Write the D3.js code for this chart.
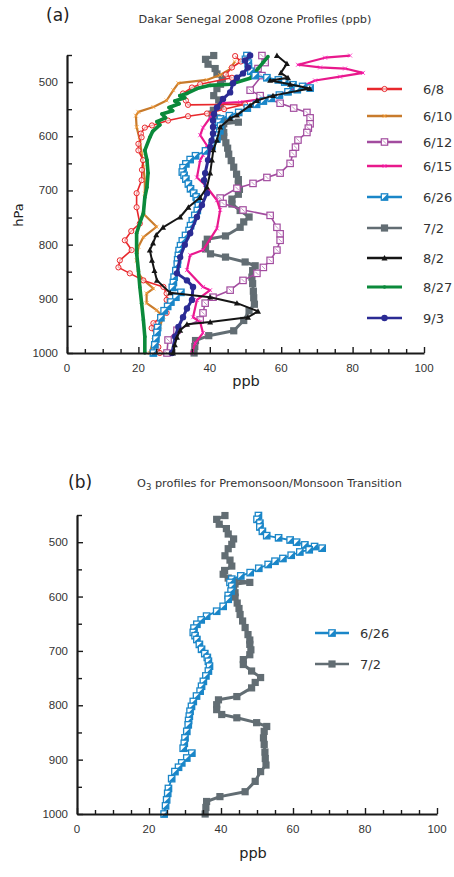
<!DOCTYPE html>
<html><head><meta charset="utf-8">
<script src="https://cdn.jsdelivr.net/npm/d3@7"></script>
<style>
body{margin:0;background:#fff;}
svg{display:block;}
</style></head>
<body><svg id="c" width="454" height="877"></svg>
<script>
// ---- DATA: [ppb, hPa] ----
const s0608 = [[47.1,452],[48.7,462],[46.2,473],[44.5,486],[46.2,492],[37.3,504],[35,510],[32.5,521],[33.3,534],[33.9,542],[49.9,541],[44,550],[39.2,558],[33.9,563],[28.3,571],[23.8,580],[21.8,584],[20.7,595],[20.9,602],[20,614],[20,626],[21.3,644],[21,662],[20.9,681],[19.5,705],[19.5,731],[20.4,761],[18,775],[16.2,792],[18.1,810],[14.8,829],[14.4,842],[17.6,853],[21.4,866],[27,878],[27.9,890],[27.9,902],[27.9,926],[24.2,945],[23.7,954],[25.1,971],[25.6,989],[26,1000]];
const s0610 = [[47,462],[45.7,476],[42.9,487],[39.1,496],[31.2,502],[29.8,515],[27.9,534],[24.2,546],[20,555],[19.3,562],[19.5,583],[20.4,607],[20.9,631],[21.4,657],[21.8,681],[21.8,706],[21.4,743],[25.1,767],[21.4,786],[20,804],[19.5,829],[20,853],[21.4,865],[24.2,881],[22.3,890],[22.3,908],[25.1,921],[27,933],[26,951],[24.2,976],[23.2,1000]];
const s0612 = [[54.6,451],[55.5,464],[53.5,475],[54.6,488],[51.3,515],[54.1,525],[59.7,539],[63.5,548],[67.2,556],[68.1,566],[68.1,577],[67.6,585],[67.2,593],[64.7,607],[64,620],[63.3,632],[62.5,650],[59.7,668],[56,676],[52.1,687],[47.6,696],[42.9,714],[43.7,724],[49.3,736],[56.9,746],[58.8,768],[59.7,780],[59.7,792],[58.8,810],[56.9,829],[55,842],[53.2,853],[49.3,866],[45.7,884],[40.9,897],[38.7,908],[38.1,926],[37.3,939],[30.8,958],[28.3,976],[28,1000]];
const s0615 = [[79.3,451],[72.3,455],[64.7,468],[70.9,473],[77.9,475],[82.9,483],[76.5,490],[69.5,497],[67.2,504],[62.5,515],[57.7,528],[48.5,537],[43.4,539],[40.6,561],[38.1,584],[37.3,598],[39.2,617],[38.1,635],[37.3,644],[36.4,676],[38.7,690],[42,718],[42.9,736],[42,770],[38.1,810],[34.5,819],[33.6,847],[38.1,878],[40.1,884],[36.4,902],[35.3,934],[37.3,943],[38.1,963],[35.9,982],[35,1000]];
const s0626 = [[50.4,451],[50,458],[50.8,465],[50.8,472],[51.5,480],[52.7,488],[56,492],[59.2,496],[61,500],[63.3,505],[66,508],[68.1,511],[64.5,514],[61.9,518],[59.5,524],[57.2,530],[55,535],[53.1,541],[50.5,548],[48.1,556],[45.5,562],[43,568],[42.5,574],[43,581],[42.8,590],[42,598],[42,605],[40.6,618],[38.8,627],[36,636],[34.5,643],[33.3,651],[32.5,658],[32.3,666],[32.8,672],[33.3,679],[34,688],[34.6,697],[35.5,705],[36.2,712],[36.5,719],[36.8,728],[36.5,737],[35.8,746],[35.1,756],[34.6,765],[34.2,774],[33.2,783],[32.3,793],[31.8,802],[31.4,811],[31.2,820],[31,828],[30.9,836],[30.5,848],[30,860],[29.8,870],[29.5,879],[31.9,888],[30.5,897],[29.1,906],[28.2,914],[27.2,922],[26.3,935],[25.4,953],[25.2,962],[24.9,974],[24.6,985],[24.2,1000]];
const s0702 = [[41.1,451],[38.8,458],[39.5,467],[41.5,475],[42,485],[43.5,494],[43,504],[42,512],[41.1,525],[42.5,533],[43,544],[41,552],[40.6,559],[42,566],[48,574],[43.9,577],[43.5,585],[43.9,593],[43.9,601],[44.5,612],[45,622],[45.3,633],[46,645],[46.7,657],[47.5,670],[48,680],[48,688],[48.3,698],[48,707],[46.2,716],[46.2,725],[48.5,737],[51,749],[49.5,758],[48.5,768],[44.4,784],[39.3,790],[38.8,799],[38.8,808],[40.2,817],[44.4,823],[49.9,832],[52.7,839],[52,848],[51.8,860],[52,872],[52.2,886],[52.3,898],[52.5,910],[51,922],[49.5,940],[46.7,959],[39.7,968],[36,977],[35.8,988],[35.6,1000]];
const s0802 = [[58.8,451],[61.6,466],[59.9,483],[61.9,492],[56.9,497],[62.5,504],[68,512],[57.7,525],[53.2,534],[51.3,543],[47.6,561],[45.7,567],[42.9,583],[42,607],[41,625],[40.6,644],[40.1,668],[39.2,694],[37.3,713],[34,731],[31.7,749],[26.9,768],[25,782],[24.1,797],[23.2,810],[23.8,829],[24.5,848],[25.2,866],[28.9,889],[40.1,897],[47.6,908],[53.5,923],[50.7,934],[40.1,943],[33.6,947],[31.7,958],[30.8,971],[30.2,985],[29.7,1000]];
const s0827 = [[56.3,453],[54.9,464],[53.5,475],[51.3,493],[45.7,504],[40.1,506],[36.4,512],[33.6,521],[31.6,525],[33,529],[30.2,535],[31.4,540],[28.6,547],[29.6,553],[26.6,559],[27.6,566],[25.2,573],[26,579],[24,591],[23.2,602],[21.8,626],[22.4,644],[22.7,668],[22.4,694],[21.8,713],[21.4,742],[20.4,760],[19.5,779],[19.5,816],[20,847],[20.4,878],[20.9,908],[21.4,939],[21.8,970],[21.8,1000]];
const s0903 = [[51.3,451],[49.9,460],[50.7,473],[49.3,484],[47.6,492],[46.5,502],[45.7,519],[43.7,531],[42,547],[41.2,559],[40.9,571],[40.9,583],[40.9,595],[40.5,608],[40.1,620],[39.5,644],[38.7,668],[38.4,681],[39.2,705],[37.8,727],[36.4,749],[34.5,779],[33,800],[31.7,823],[30.8,853],[33.6,866],[35.3,878],[35,902],[33.6,918],[32.5,934],[31.2,952],[30.3,970],[29.4,1000]];

const labels = ["6/8","6/10","6/12","6/15","6/26","7/2","8/2","8/27","9/3"];
const xTickLabels = [0,20,40,60,80,100];
const yTickLabels = [500,600,700,800,900,1000];

// ---- STYLES ----
const styles = {
 "6/8": {data:s0608,color:"#e8282c",w:1.6,mk:"circle"},
 "6/10":{data:s0610,color:"#c87b2c",w:2.2,mk:"x"},
 "6/12":{data:s0612,color:"#a24c9f",w:1.6,mk:"sqx"},
 "6/15":{data:s0615,color:"#e8198c",w:2.2,mk:"x"},
 "6/26":{data:s0626,color:"#1a86c8",w:1.8,mk:"half"},
 "7/2": {data:s0702,color:"#626d73",w:3,mk:"fsq"},
 "8/2": {data:s0802,color:"#151515",w:2,mk:"tri"},
 "8/27":{data:s0827,color:"#0b8a3b",w:3.6,mk:"dot"},
 "9/3": {data:s0903,color:"#2b2b94",w:3,mk:"fcirc"}
};
const drawOrder = ["7/2","6/12","6/15","6/10","6/8","8/27","6/26","9/3","8/2"];

const svg = d3.select("#c");
const tickFont = "'Liberation Sans', Arial, sans-serif";
const titleFont = "'DejaVu Sans', sans-serif";

function marker(g, type, cx, cy, color, scale){
  scale = scale||1;
  if(type==="circle"){
    g.append("circle").attr("cx",cx).attr("cy",cy).attr("r",2.6*scale).attr("fill","#fff").attr("fill-opacity",0.6).attr("stroke",color).attr("stroke-width",1);
  } else if(type==="x"){
    const s=2*scale;
    g.append("path").attr("d",`M${cx-s},${cy-s}L${cx+s},${cy+s}M${cx-s},${cy+s}L${cx+s},${cy-s}`).attr("stroke",d3.color(color).brighter(0.8)).attr("stroke-width",0.8);
  } else if(type==="sqx"){
    const s=3.2*scale;
    g.append("rect").attr("x",cx-s).attr("y",cy-s).attr("width",2*s).attr("height",2*s).attr("fill","#fff").attr("stroke",color).attr("stroke-width",1.2);
    g.append("path").attr("d",`M${cx-s+1.5},${cy-s+1.5}L${cx+s-1.5},${cy+s-1.5}`).attr("stroke",color).attr("stroke-width",0.6);
  } else if(type==="half"){
    const s=3.2*scale;
    g.append("rect").attr("x",cx-s).attr("y",cy-s).attr("width",2*s).attr("height",2*s).attr("fill","#fff").attr("stroke",color).attr("stroke-width",1.3);
    g.append("path").attr("d",`M${cx-s},${cy+s}L${cx+s},${cy-s}L${cx+s},${cy+s}Z`).attr("fill",color);
  } else if(type==="fsq"){
    const s=3.6*scale;
    g.append("rect").attr("x",cx-s).attr("y",cy-s).attr("width",2*s).attr("height",2*s).attr("fill",color);
  } else if(type==="tri"){
    const s=3*scale;
    g.append("path").attr("d",`M${cx},${cy-s}L${cx+s},${cy+s*0.8}L${cx-s},${cy+s*0.8}Z`).attr("fill",color);
  } else if(type==="dot"){
    g.append("circle").attr("cx",cx).attr("cy",cy).attr("r",1.8*scale).attr("fill",color);
  } else if(type==="fcirc"){
    g.append("circle").attr("cx",cx).attr("cy",cy).attr("r",3.2*scale).attr("fill",color);
  }
}

function axes(g, x, y){
  const xa = g.append("g").attr("transform",`translate(0,${y(1000)})`)
    .call(d3.axisBottom(x).tickValues(d3.range(0,101,5)).tickSize(0).tickFormat(""));
  xa.select(".domain").attr("stroke","#1a1a1a").attr("stroke-width",2.2);
  xa.selectAll(".tick line").remove();
  xa.selectAll(".tick").append("line").attr("y1",0)
    .attr("y2",d=> d%20===0 ? -6 : -4).attr("stroke","#1a1a1a").attr("stroke-width",1.4);
  g.append("g").selectAll("text").data(xTickLabels).join("text")
    .attr("x",d=>x(d)).attr("y",y(1000)+19).attr("text-anchor","middle")
    .attr("font-family",tickFont).attr("font-size",11.5).attr("fill","#333").text(d=>d);
  const ya = g.append("g").attr("transform",`translate(${x(0)},0)`)
    .call(d3.axisLeft(y).tickValues(d3.range(450,1001,50)).tickSize(0).tickFormat(""));
  ya.select(".domain").attr("stroke","#1a1a1a").attr("stroke-width",2.2);
  ya.selectAll(".tick line").remove();
  ya.selectAll(".tick").append("line").attr("x1",0)
    .attr("x2",d=> d%100===0 ? 6 : 5).attr("stroke","#1a1a1a").attr("stroke-width",1.4);
  g.append("g").selectAll("text").data(yTickLabels).join("text")
    .attr("x",x(0)-9).attr("y",d=>y(d)+4).attr("text-anchor","end")
    .attr("font-family",tickFont).attr("font-size",11.5).attr("fill","#333").text(d=>d);
}

function series(g, x, y, names){
  const line = d3.line().x(d=>x(d[0])).y(d=>y(d[1]));
  names.forEach(n=>{
    const st = styles[n];
    const sg = g.append("g");
    sg.append("path").datum(st.data).attr("d",line).attr("fill","none")
      .attr("stroke",st.color).attr("stroke-width",st.w).attr("stroke-linejoin","round");
    st.data.forEach(d=>marker(sg, st.mk, x(d[0]), y(d[1]), st.color));
  });
}

function legend(g, names, x1, x2, tx, ys){
  names.forEach((n,i)=>{
    const st = styles[n];
    g.append("line").attr("x1",x1).attr("x2",x2).attr("y1",ys[i]).attr("y2",ys[i])
      .attr("stroke",st.color).attr("stroke-width",Math.max(2.6,st.w*0.9));
    marker(g, st.mk, (x1+x2)/2, ys[i], st.color);
    g.append("text").attr("x",tx).attr("y",ys[i]+5).attr("font-family",titleFont)
      .attr("font-size",13).attr("fill","#333").text(n);
  });
}

// ---- TOP CHART ----
const xA = d3.scaleLinear().domain([0,100]).range([67,424]);
const yA = d3.scaleLinear().domain([450,1000]).range([55,353]);
const gA = svg.append("g");
series(gA, xA, yA, drawOrder);
axes(gA, xA, yA);
gA.append("text").attr("x",46).attr("y",21).attr("font-family",titleFont).attr("font-size",17).attr("fill","#222").text("(a)");
gA.append("text").attr("x",255).attr("y",23).attr("text-anchor","middle").attr("font-family",titleFont).attr("font-size",11.3).attr("fill","#333").text("Dakar Senegal 2008 Ozone Profiles (ppb)");
gA.append("text").attr("transform","translate(23,215) rotate(-90)").attr("text-anchor","middle").attr("font-family",titleFont).attr("font-size",13).attr("fill","#222").text("hPa");
gA.append("text").attr("x",246).attr("y",386).attr("text-anchor","middle").attr("font-family",titleFont).attr("font-size",14.5).attr("fill","#222").text("ppb");
legend(gA, labels, 367, 402, 423, [89,116,142,166,197,228,258,287,318]);

// ---- BOTTOM CHART ----
const xB = d3.scaleLinear().domain([0,100]).range([77,437]);
const yB = d3.scaleLinear().domain([450,1000]).range([515,814]);
const gB = svg.append("g");
series(gB, xB, yB, ["7/2","6/26"]);
axes(gB, xB, yB);
gB.append("text").attr("x",68).attr("y",488).attr("font-family",titleFont).attr("font-size",17).attr("fill","#222").text("(b)");
const tB = gB.append("text").attr("x",137).attr("y",487).attr("font-family",titleFont).attr("font-size",11.3).attr("fill","#333");
tB.append("tspan").text("O");
tB.append("tspan").attr("dy",3).attr("font-size",8.5).text("3");
tB.append("tspan").attr("dy",-3).text(" profiles for Premonsoon/Monsoon Transition");
gB.append("text").attr("x",253).attr("y",858).attr("text-anchor","middle").attr("font-family",titleFont).attr("font-size",14.5).attr("fill","#222").text("ppb");
legend(gB, ["6/26","7/2"], 315, 349, 360, [633,664]);
</script></body></html>
